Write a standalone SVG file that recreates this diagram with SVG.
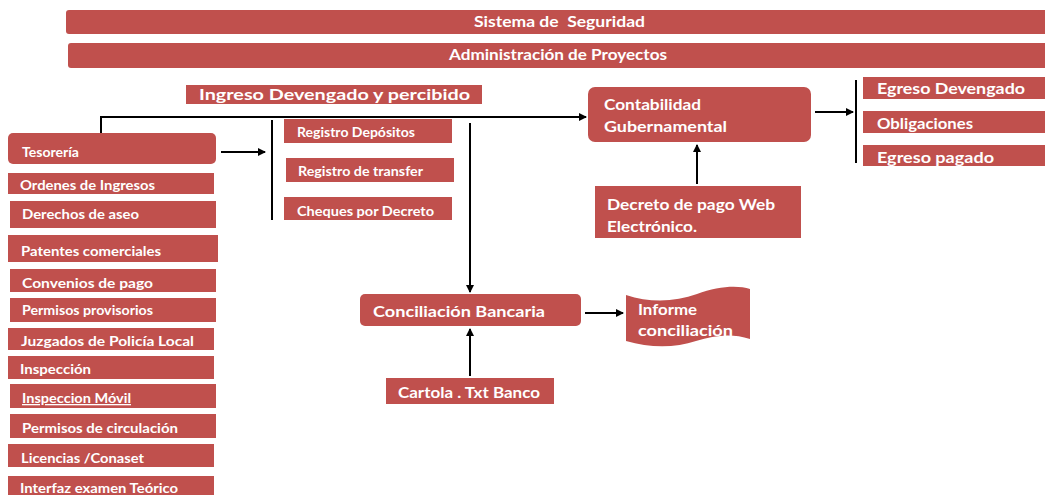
<svg xmlns="http://www.w3.org/2000/svg" width="1045" height="495" viewBox="0 0 1045 495">
<defs>
<style>
.b{fill:#C0504D}
.t{fill:#fff;font-family:Lato,"Open Sans","DejaVu Sans",sans-serif;font-weight:bold;font-size:13px}
.m{font-size:15px}
.c{stroke:#000;stroke-width:2;fill:none}
</style>
<marker id="ah" markerWidth="8" markerHeight="8" refX="7" refY="4" orient="auto" markerUnits="userSpaceOnUse">
<path d="M0,0 L8,4 L0,8 Z" fill="#000"/>
</marker>
</defs>
<rect width="1045" height="495" fill="#fff"/>

<g id="connectors">
<polyline class="c" points="101,135 101,117 586,117" marker-end="url(#ah)"/>
<line class="c" x1="221" y1="152" x2="265" y2="152" marker-end="url(#ah)"/>
<line class="c" x1="272" y1="120" x2="272" y2="220"/>
<line class="c" x1="470" y1="123" x2="470" y2="292" marker-end="url(#ah)"/>
<line class="c" x1="815" y1="112" x2="853" y2="112" marker-end="url(#ah)"/>
<line class="c" x1="856" y1="80" x2="856" y2="163"/>
<line class="c" x1="697" y1="184" x2="697" y2="145" marker-end="url(#ah)"/>
<line class="c" x1="585" y1="313" x2="623" y2="313" marker-end="url(#ah)"/>
<line class="c" x1="470" y1="376" x2="470" y2="329" marker-end="url(#ah)"/>
</g>

<g id="sistema"><rect class="b" x="66" y="10" width="985" height="24" rx="3"/><text class="t m" x="474" y="27" textLength="171" lengthAdjust="spacingAndGlyphs" xml:space="preserve" style="white-space:pre">Sistema de  Seguridad</text></g>
<g id="admin"><rect class="b" x="68" y="43" width="985" height="25" rx="3"/><text class="t m" x="449" y="60" textLength="218" lengthAdjust="spacingAndGlyphs">Administración de Proyectos</text></g>
<g id="ingreso"><rect class="b" x="186" y="85" width="296" height="19"/><text class="t m" x="199" y="100" textLength="271" lengthAdjust="spacingAndGlyphs">Ingreso Devengado y percibido</text></g>

<g id="tesoreria"><rect class="b" x="8" y="133" width="208" height="31" rx="5"/><text class="t" x="22" y="157" textLength="57" lengthAdjust="spacingAndGlyphs">Tesorería</text></g>
<g id="ordenes"><rect class="b" x="8" y="173" width="206" height="21"/><text class="t" x="20" y="190" textLength="135" lengthAdjust="spacingAndGlyphs">Ordenes de Ingresos</text></g>
<g id="derechos"><rect class="b" x="10" y="201" width="206" height="27"/><text class="t" x="22" y="219" textLength="117" lengthAdjust="spacingAndGlyphs">Derechos de aseo</text></g>
<g id="patentes"><rect class="b" x="8" y="235" width="210" height="27"/><text class="t" x="21" y="256" textLength="140" lengthAdjust="spacingAndGlyphs">Patentes comerciales</text></g>
<g id="convenios"><rect class="b" x="10" y="269" width="206" height="23"/><text class="t" x="22" y="288" textLength="131" lengthAdjust="spacingAndGlyphs">Convenios de pago</text></g>
<g id="permisos-prov"><rect class="b" x="10" y="298" width="206" height="24"/><text class="t" x="22" y="315" textLength="131" lengthAdjust="spacingAndGlyphs">Permisos provisorios</text></g>
<g id="juzgados"><rect class="b" x="8" y="328" width="206" height="22"/><text class="t" x="21" y="346" textLength="173" lengthAdjust="spacingAndGlyphs">Juzgados de Policía Local</text></g>
<g id="inspeccion"><rect class="b" x="8" y="356" width="206" height="23"/><text class="t" x="20" y="374" textLength="71" lengthAdjust="spacingAndGlyphs">Inspección</text></g>
<g id="inspeccion-movil"><rect class="b" x="10" y="384" width="206" height="24"/><text class="t" x="22" y="403" textLength="109" lengthAdjust="spacingAndGlyphs" text-decoration="underline">Inspeccion Móvil</text></g>
<g id="permisos-circ"><rect class="b" x="10" y="414" width="206" height="24"/><text class="t" x="22" y="433" textLength="156" lengthAdjust="spacingAndGlyphs">Permisos de circulación</text></g>
<g id="licencias"><rect class="b" x="8" y="444" width="206" height="23"/><text class="t" x="21" y="463" textLength="123" lengthAdjust="spacingAndGlyphs">Licencias /Conaset</text></g>
<g id="interfaz"><rect class="b" x="8" y="476" width="206" height="20"/><text class="t" x="20" y="493" textLength="158" lengthAdjust="spacingAndGlyphs">Interfaz examen Teórico</text></g>

<g id="reg-depositos"><rect class="b" x="284" y="119" width="168" height="24"/><text class="t" x="297" y="137" textLength="118" lengthAdjust="spacingAndGlyphs">Registro Depósitos</text></g>
<g id="reg-transfer"><rect class="b" x="286" y="158" width="168" height="24"/><text class="t" x="298" y="176" textLength="125" lengthAdjust="spacingAndGlyphs">Registro de transfer</text></g>
<g id="cheques"><rect class="b" x="284" y="197" width="168" height="23"/><text class="t" x="297" y="216" textLength="137" lengthAdjust="spacingAndGlyphs">Cheques por Decreto</text></g>

<g id="contabilidad"><rect class="b" x="588" y="87" width="223" height="55" rx="7"/><text class="t m" x="604" y="110" textLength="97" lengthAdjust="spacingAndGlyphs">Contabilidad</text><text class="t m" x="604" y="132" textLength="123" lengthAdjust="spacingAndGlyphs">Gubernamental</text></g>

<g id="egreso-devengado"><rect class="b" x="863" y="77" width="190" height="22"/><text class="t m" x="877" y="94" textLength="148" lengthAdjust="spacingAndGlyphs">Egreso Devengado</text></g>
<g id="obligaciones"><rect class="b" x="863" y="111" width="190" height="22"/><text class="t m" x="877" y="129" textLength="96" lengthAdjust="spacingAndGlyphs">Obligaciones</text></g>
<g id="egreso-pagado"><rect class="b" x="863" y="145" width="190" height="21"/><text class="t m" x="877" y="163" textLength="117" lengthAdjust="spacingAndGlyphs">Egreso pagado</text></g>

<g id="decreto"><rect class="b" x="595" y="186" width="206" height="52"/><text class="t m" x="607" y="210" textLength="168" lengthAdjust="spacingAndGlyphs">Decreto de pago Web</text><text class="t m" x="607" y="232" textLength="90" lengthAdjust="spacingAndGlyphs">Electrónico.</text></g>

<g id="conciliacion"><rect class="b" x="360" y="294" width="221" height="32" rx="5"/><text class="t m" x="373" y="317" textLength="172" lengthAdjust="spacingAndGlyphs">Conciliación Bancaria</text></g>

<g id="informe"><path class="b" d="M626,295 C650,303 675,302 697,294 C718,286 738,285 750,289 L750,339 C732,333 715,335 696,341 C675,348 650,348 626,341 Z"/><text class="t m" x="638" y="315" textLength="59" lengthAdjust="spacingAndGlyphs">Informe</text><text class="t m" x="638" y="336" textLength="95" lengthAdjust="spacingAndGlyphs">conciliación</text></g>

<g id="cartola"><rect class="b" x="386" y="378" width="168" height="26"/><text class="t m" x="398" y="398" textLength="142" lengthAdjust="spacingAndGlyphs">Cartola . Txt Banco</text></g>
</svg>
